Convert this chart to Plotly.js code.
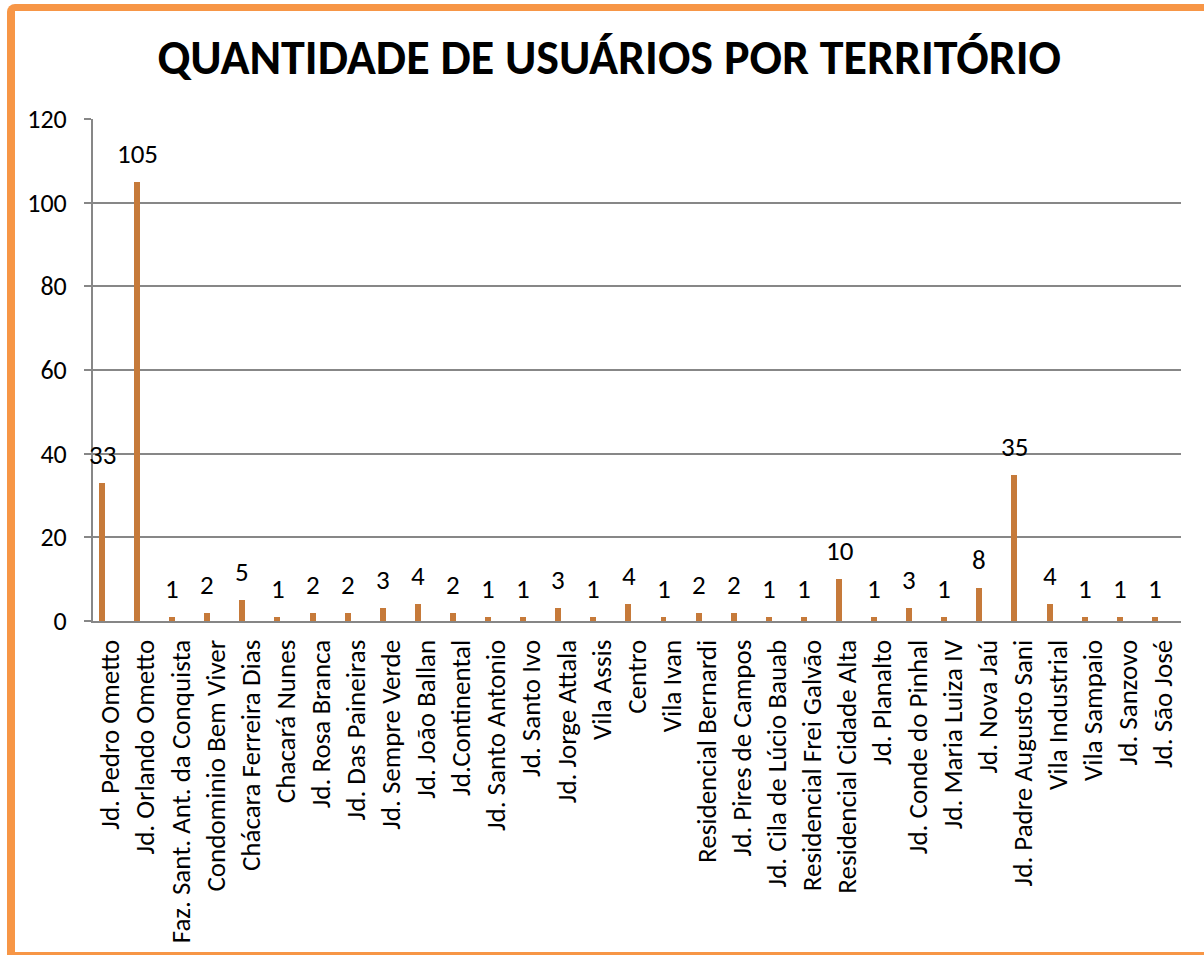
<!DOCTYPE html>
<html>
<head>
<meta charset="utf-8">
<script src="https://cdn.plot.ly/plotly-3.0.1.min.js"></script>
<style>
html,body{margin:0;padding:0;background:#fff;}
#wrap{position:relative;width:1204px;height:955px;overflow:hidden;}
#chart{position:absolute;left:0;top:0;width:1204px;height:955px;}
#frame{position:absolute;left:7px;top:4px;width:1220px;height:941px;border-left:8px solid #F79646;border-top:7px solid #F79646;border-bottom:3px solid #F79646;border-radius:8px 0 0 0;pointer-events:none;box-sizing:content-box;}
</style>
</head>
<body>
<div id="wrap">
<div id="chart"></div>
<div id="frame"></div>
</div>
<script>
const categories = [
  "Jd. Pedro Ometto","Jd. Orlando Ometto","Faz. Sant. Ant. da Conquista","Condominio Bem Viver",
  "Chácara Ferreira Dias","Chacará Nunes","Jd. Rosa Branca","Jd. Das Paineiras","Jd. Sempre Verde",
  "Jd. João Ballan","Jd.Continental","Jd. Santo Antonio","Jd. Santo Ivo","Jd. Jorge Attala","Vila Assis",
  "Centro","Vila Ivan","Residencial Bernardi","Jd. Pires de Campos","Jd. Cila de Lúcio Bauab",
  "Residencial Frei Galvão","Residencial Cidade Alta","Jd. Planalto","Jd. Conde do Pinhal",
  "Jd. Maria Luiza IV","Jd. Nova Jaú","Jd. Padre Augusto Sani","Vila Industrial","Vila Sampaio",
  "Jd. Sanzovo","Jd. São José"
];
const usuarios = [33,105,1,2,5,1,2,2,3,4,2,1,1,3,1,4,1,2,2,1,1,10,1,3,1,8,35,4,1,1,1];
const yTicks = [0,20,40,60,80,100,120];

const font = "Carlito, Calibri, Lato, 'Liberation Sans', sans-serif";

const labels = categories.map((c, i) => ({
  x: c, y: usuarios[i], xref: 'x', yref: 'y',
  text: String(usuarios[i]), showarrow: false,
  xanchor: 'center', yanchor: 'bottom',
  xshift: -8.5, yshift: 10,
  font: {family: font, size: 27, color: '#000'}
}));

Plotly.newPlot('chart', [{
  type: 'bar',
  x: categories,
  y: usuarios,
  width: 0.17,
  offset: -0.33,
  marker: {color: '#C67A3A'},
  hoverinfo: 'x+y'
}], {
  width: 1204, height: 955,
  margin: {l: 93, r: 23, t: 119, b: 334},
  paper_bgcolor: '#fff', plot_bgcolor: '#fff',
  title: {text: '<b>QUANTIDADE DE USUÁRIOS POR TERRITÓRIO</b>', x: 0.506, xanchor: 'center', y: 0.94, yanchor: 'middle',
          font: {family: font, size: 48, color: '#000'}},
  showlegend: false,
  bargap: 0,
  annotations: labels,
  xaxis: {
    type: 'category',
    range: [-0.5, categories.length - 0.5],
    tickangle: -90,
    tickfont: {family: font, size: 27, color: '#000'},
    showline: true, linecolor: '#868686', linewidth: 2,
    ticks: '', showgrid: false, automargin: false,
    ticklabelstandoff: 6
  },
  yaxis: {
    range: [0, 120],
    tickvals: yTicks,
    ticktext: yTicks.map(String),
    tickfont: {family: font, size: 26, color: '#000'},
    showgrid: true, gridcolor: '#878787', gridwidth: 2,
    showline: true, linecolor: '#878787', linewidth: 2,
    zeroline: false,
    ticks: 'outside', ticklen: 7, tickcolor: '#878787', tickwidth: 2,
    ticklabelstandoff: 12,
    automargin: false
  }
}, {displayModeBar: false, staticPlot: true});
</script>
</body>
</html>
